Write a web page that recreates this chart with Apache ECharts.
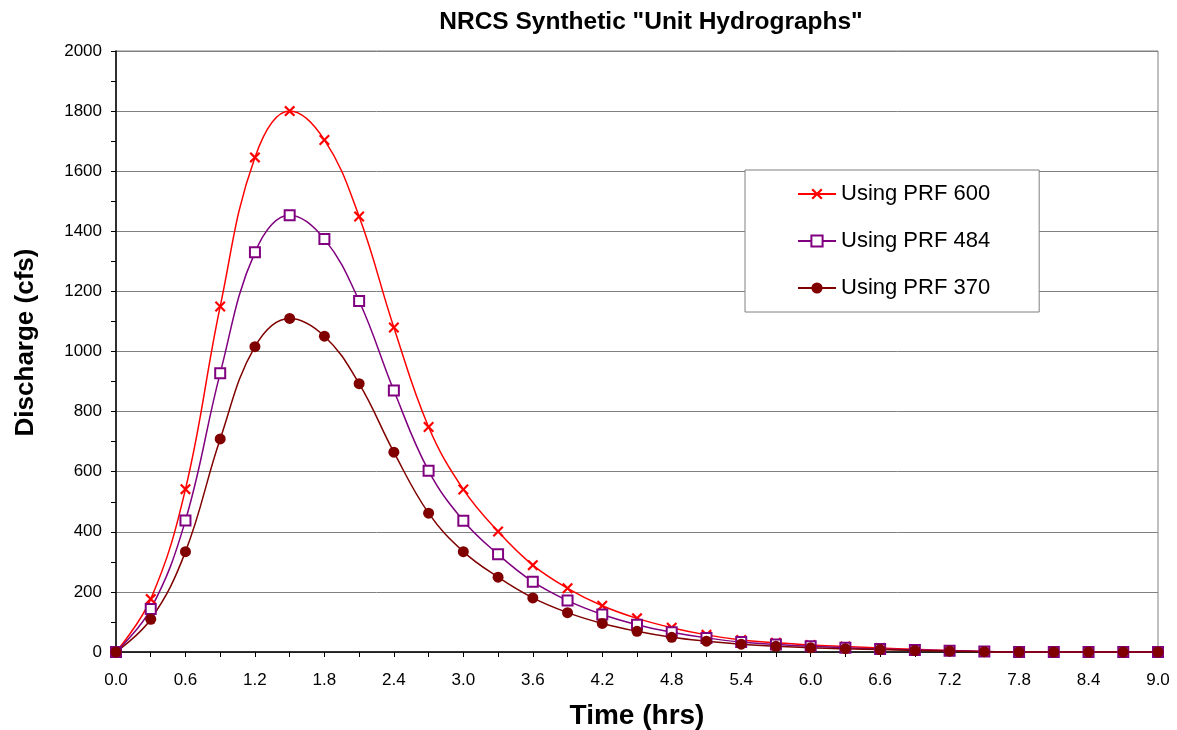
<!DOCTYPE html>
<html>
<head>
<meta charset="utf-8">
<script src="https://cdn.jsdelivr.net/npm/echarts@6/dist/echarts.min.js"></script>
<style>
html,body{margin:0;padding:0;background:#fff;}
#c{width:1177px;height:730px;}
</style>
</head>
<body>
<div id="c"></div>
<script>
const timeHrs = [0.0,0.3,0.6,0.9,1.2,1.5,1.8,2.1,2.4,2.7,3.0,3.3,3.6,3.9,4.2,4.5,4.8,5.1,5.4,5.7,6.0,6.3,6.6,6.9,7.2,7.5,7.8,8.1,8.4,8.7,9.0];
const prf600 = [0,176,542,1150,1646,1800,1704,1449,1080,749,541,401,289,212,154,112,81,57,40,31,23,18,13,9,5,2,0,0,0,0,0];
const prf484 = [0,143,438,928,1330,1453,1374,1168,870,603,437,325,234,171,125,91,66,47,33,25,19,14,10,7,4,2,0,0,0,0,0];
const prf370 = [0,109,334,709,1016,1110,1051,893,665,462,334,249,180,131,95,69,49,36,26,19,14,11,8,5,3,1,0,0,0,0,0];
const seriesNames = ['Using PRF 600','Using PRF 484','Using PRF 370'];
const titleText = 'NRCS Synthetic "Unit Hydrographs"';
const xName = 'Time (hrs)';
const yName = 'Discharge (cfs)';

const FONT = '"Liberation Sans", Arial, sans-serif';
const xShape = 'path://M1.4,0 L5,3.6 L8.6,0 L10,1.4 L6.4,5 L10,8.6 L8.6,10 L5,6.4 L1.4,10 L0,8.6 L3.6,5 L0,1.4 Z';

function pairs(ys){ return timeHrs.map((t,i)=>[t, ys[i]]); }

const chart = echarts.init(document.getElementById('c'), null, {renderer:'canvas'});
chart.setOption({
  animation:false,
  backgroundColor:'#ffffff',
  title:{
    text:titleText, left:646, top:5,
    textAlign:'center',
    textStyle:{fontFamily:FONT, fontSize:24.5, fontWeight:'bold', color:'#000'}
  },
  grid:{left:116, top:51, right:19, bottom:78, outerBoundsMode:'none', containLabel:false,
        show:true, borderColor:'#808080', borderWidth:1, backgroundColor:'transparent'},
  legend:{
    orient:'vertical', left:745, top:170,
    padding:[13,49,13,52],
    itemWidth:38, itemHeight:14, itemGap:25,
    backgroundColor:'#ffffff', borderColor:'#808080', borderWidth:1,
    textStyle:{fontFamily:FONT, fontSize:22, color:'#000'},
    data:seriesNames
  },
  xAxis:{
    type:'value', min:0, max:9, interval:0.3,
    name:xName, nameLocation:'middle', nameGap:50,
    nameTextStyle:{fontFamily:FONT, fontSize:28, fontWeight:'bold', color:'#000'},
    axisLine:{show:true, onZero:false, lineStyle:{color:'#000', width:1.5}},
    axisTick:{show:true, length:5, lineStyle:{color:'#000', width:1}},
    axisLabel:{fontFamily:FONT, fontSize:17, color:'#000', margin:20,
      formatter:function(v){ const k=Math.round(v/0.3); return k%2===0 ? v.toFixed(1) : ''; }},
    splitLine:{show:false}
  },
  yAxis:{
    type:'value', min:0, max:2000, interval:200,
    name:yName, nameLocation:'middle', nameGap:77, nameRotate:90,
    nameTextStyle:{fontFamily:FONT, fontSize:26, fontWeight:'bold', color:'#000', padding:[0,0,0,18]},
    axisLine:{show:true, lineStyle:{color:'#000', width:1.5}},
    axisTick:{show:true, length:5, lineStyle:{color:'#000', width:1}},
    minorTick:{show:true, splitNumber:2, length:5, lineStyle:{color:'#000', width:1}},
    axisLabel:{fontFamily:FONT, fontSize:17, color:'#000', margin:14,
      formatter:function(v){ return String(v); }},
    splitLine:{show:true, lineStyle:{color:'#808080', width:1}}
  },
  series:[
    {name:seriesNames[0], type:'line', data:pairs(prf600), smooth:0.4,
     symbol:xShape, symbolSize:11, showSymbol:true,
     lineStyle:{color:'#ff0000', width:1.5}, itemStyle:{color:'#ff0000'}},
    {name:seriesNames[1], type:'line', data:pairs(prf484), smooth:0.4,
     symbol:'emptyRect', symbolSize:10, showSymbol:true,
     lineStyle:{color:'#800080', width:1.5}, itemStyle:{color:'#800080', borderWidth:1.5}},
    {name:seriesNames[2], type:'line', data:pairs(prf370), smooth:0.4,
     symbol:'circle', symbolSize:11, showSymbol:true,
     lineStyle:{color:'#800000', width:1.5}, itemStyle:{color:'#800000'}}
  ]
});
</script>
</body>
</html>
